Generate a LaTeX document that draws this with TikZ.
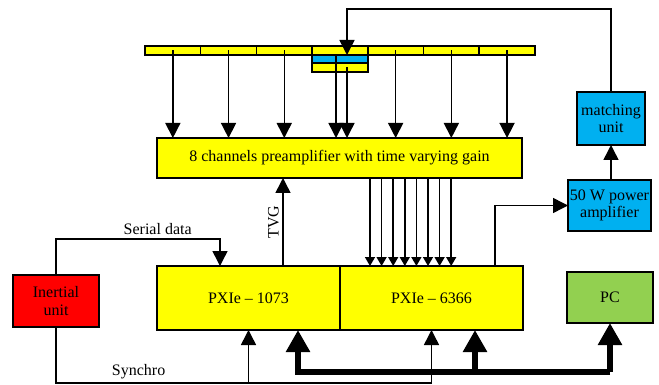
\documentclass[tikz,border=0pt]{standalone}
\usepackage{fontspec}
\setmainfont{Liberation Serif}
\usetikzlibrary{calc,positioning,arrows.meta}

\definecolor{chyellow}{HTML}{FFFF00}
\definecolor{chblue}{HTML}{00B0F0}
\definecolor{chred}{HTML}{FF0000}
\definecolor{chgreen}{HTML}{92D050}

\tikzset{
  blk/.style={draw, line width=1.5pt, inner sep=0pt, outer sep=0pt, align=center},
  elem/.style={blk, fill=chyellow, minimum width=55.7pt, minimum height=9pt},
  arr/.style={line width=1.5pt, -{Triangle[width=15pt,length=15pt]}},
  arrsm/.style={line width=1.5pt, -{Triangle[width=10pt,length=9pt]}},
  bigarr/.style={line width=6pt, -{Triangle[width=23pt,length=22pt]}},
}

\begin{document}
\begin{tikzpicture}[x=1pt, y=-1pt, font=\fontsize{16}{17.5}\selectfont]
  \useasboundingbox (0,0) rectangle (659,385);

  % array
  \foreach \i in {1,...,7}
    \node[elem] (e\i) at ({145+55.7*(\i-0.5)},50.5) {};
  \node[blk, fill=chblue, minimum width=24pt, minimum height=8pt] (bl) at (324,59) {};
  \node[blk, fill=chblue, minimum width=32pt, minimum height=8pt] (br) at (352,59) {};
  \node[blk, fill=chyellow, minimum width=24pt, minimum height=9pt] (yl) at (324,67.5) {};
  \node[blk, fill=chyellow, minimum width=32pt, minimum height=9pt] (yr) at (352,67.5) {};

  \node[blk, fill=chyellow, minimum width=365pt, minimum height=40pt] (pre) at (339.5,158)
    {8 channels preamplifier with time varying gain};
  \node[blk, fill=chyellow, minimum width=183pt, minimum height=64pt] (pxa) at (248.5,298) {PXIe -- 1073};
  \node[blk, fill=chyellow, minimum width=183pt, minimum height=64pt] (pxb) at (431.5,298) {PXIe -- 6366};
  \node[blk, fill=chred, minimum width=86pt, minimum height=52pt] (imu) at (56,301) {Inertial\\unit};
  \node[blk, fill=chgreen, minimum width=86pt, minimum height=51pt] (pc) at (610,297.5) {PC};
  \node[blk, fill=chblue, minimum width=83pt, minimum height=51pt] (amp) at (609.5,205.5) {50 W power\\amplifier};
  \node[blk, fill=chblue, minimum width=68pt, minimum height=53pt] (match) at (611,118.5) {matching\\unit};

  \coordinate (fb) at (347,9);
  \coordinate (sd) at (220,239);
  \coordinate (tvg) at (283,0);
  \coordinate (syn) at (0,383);
  \coordinate (bus) at (0,372);

  % array to preamplifier
  \foreach \i in {1,2,3,5,6,7}
    \draw[arr] (e\i.center) -- (e\i |- pre.north);
  \draw[arr] (bl.north east) -- (bl.north east |- pre.north);
  \draw[arr] (fb |- yr.center) -- (fb |- pre.north);
  \draw[arr] (match.north) |- (fb) -- (fb |- br.north);

  % preamplifier to 6366
  \foreach \k in {0,...,7}
    \draw[arrsm] ([xshift={30.5+11.6*\k}]pre.south) -- ([xshift={30.5+11.6*\k}]pre.south |- pxb.north);
  \draw[arr] (tvg |- pxa.north) -- node[midway, sloped, above] {TVG} (tvg |- pre.south);

  \draw[arr] ([xshift=63.5]pxb.north) |- (amp.west);
  \draw[arr] (match.south |- amp.north) -- (match.south);

  % inertial unit
  \draw[arr] (imu.north) |- node[pos=0.81, above] {Serial data} (sd) -- (sd |- pxa.north);
  \draw[arr] (imu.south) |- node[pos=0.61, above] {Synchro} (pxb.south |- syn) -- (pxb.south);
  \draw[arr] (pxa.south |- syn) -- (pxa.south);

  % bus
  \draw[bigarr, line join=miter] (pc.south |- bus) -| ([xshift=49.5]pxa.south);
  \draw[bigarr] ([xshift=43.5]pxb.south |- bus) -- ([xshift=43.5]pxb.south);
  \draw[bigarr] (pc.south |- bus) -- (pc.south);

\end{tikzpicture}
\end{document}
